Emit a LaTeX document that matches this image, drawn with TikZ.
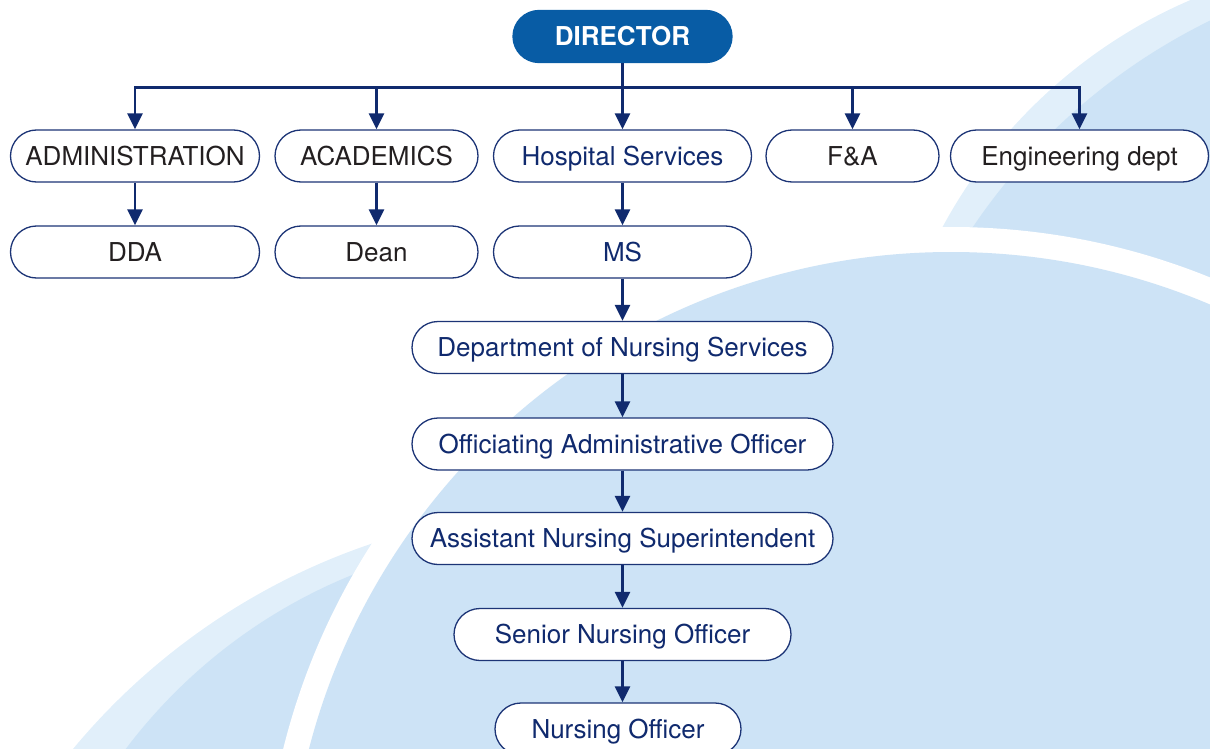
\documentclass[tikz,border=0pt]{standalone}
\usepackage{fontspec}
\setmainfont{TeX Gyre Heros}
\usetikzlibrary{arrows.meta}
\definecolor{navy}{RGB}{16,42,110}
\definecolor{boxline}{RGB}{28,52,118}
\definecolor{dirblue}{RGB}{8,92,165}
\definecolor{txtdark}{RGB}{35,31,32}
\definecolor{palesky}{RGB}{225,239,250}
\definecolor{lightsky}{RGB}{205,227,246}

\begin{document}
\begin{tikzpicture}[x=0.5pt, y=-0.5pt,
   box/.style={draw=boxline, line width=0.65pt, fill=white, rounded corners=13pt,
     minimum height=26pt, inner sep=0pt, text height=9.4pt, text depth=0pt,
     font=\fontsize{13}{15}\selectfont, text=navy},
   grey/.style={text=txtdark},
   link/.style={draw=navy, line width=1.4pt, -{Triangle[length=8pt,width=7.5pt]}}]
   \useasboundingbox (0,0) rectangle (1210,749);
   \begin{scope}
   \clip (0,0) rectangle (1210,749);
   \fill[palesky] (1391,468) circle[radius=254.5pt];
   \fill[lightsky] (1477,567) circle[radius=304pt];
   \fill[palesky] (584,1173) circle[radius=332pt];
   \fill[lightsky] (553,1071) circle[radius=267.5pt];
   \fill[white] (951,915) circle[radius=344pt];
   \fill[lightsky] (951,915) circle[radius=331.5pt];
   \end{scope}
   \node[box, fill=dirblue, draw=dirblue, text=white, font=\bfseries\fontsize{13}{15}\selectfont, minimum width=109.5pt] (director) at (622.5,36.5) {DIRECTOR};
   \node[box, grey, minimum width=124.5pt] (admin) at (135,156) {ADMINISTRATION};
   \node[box, grey, minimum width=101.5pt] (acad) at (376.5,156) {ACADEMICS};
   \node[box, minimum width=129pt] (hosp) at (622.5,156) {Hospital Services};
   \node[box, grey, minimum width=86.5pt] (fa) at (852.5,156) {F\&A};
   \node[box, grey, minimum width=129pt] (eng) at (1079.5,156) {Engineering dept};
   \node[box, grey, minimum width=124.5pt] (dda) at (135,252) {DDA};
   \node[box, grey, minimum width=101.5pt] (dean) at (376.5,252) {Dean};
   \node[box, minimum width=129pt] (ms) at (622.5,252) {MS};
   \node[box, minimum width=210.5pt] (dns) at (622.5,347.5) {Department of Nursing Services};
   \node[box, minimum width=210.5pt] (oao) at (622.5,444) {Officiating Administrative Officer};
   \node[box, minimum width=210.5pt] (ans) at (622.5,538.5) {Assistant Nursing Superintendent};
   \node[box, minimum width=168.5pt] (sno) at (622.5,634.5) {Senior Nursing Officer};
   \node[box, minimum width=123pt] (nro) at (618,729) {Nursing Officer};
   \coordinate (bus) at (622.5,87.5);
   \draw[link] (director) -- (hosp);
   \draw[link] (bus) -| (admin);
   \draw[link] (bus) -| (acad);
   \draw[link] (bus) -| (fa);
   \draw[link] (bus) -| (eng);
   \draw[link] (admin) -- (dda);
   \draw[link] (acad) -- (dean);
   \draw[link] (hosp) -- (ms);
   \draw[link] (ms) -- (dns);
   \draw[link] (dns) -- (oao);
   \draw[link] (oao) -- (ans);
   \draw[link] (ans) -- (sno);
   \draw[link] (sno) -- (sno.south |- nro.north);
  \end{tikzpicture}
\end{document}
